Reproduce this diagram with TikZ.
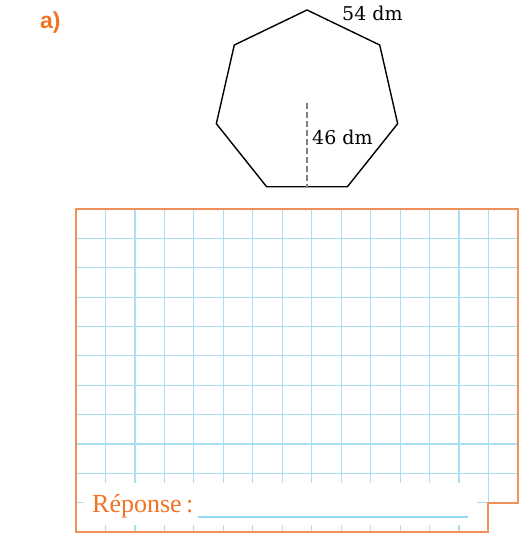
\documentclass[tikz,border=0pt]{standalone}
\usepackage{fontspec}
\setmainfont{DejaVu Serif}
\newfontfamily\repfont{Liberation Serif}
\newfontfamily\labfont{Liberation Sans}
\definecolor{exoorange}{RGB}{242,115,35}
\definecolor{frameorange}{RGB}{240,145,90}
\definecolor{gridblue}{RGB}{170,222,245}
\definecolor{lineblue}{RGB}{150,215,245}

\begin{document}
\begin{tikzpicture}[x=1pt, y=1pt, every node/.style={inner sep=0pt}]
    \useasboundingbox (0,0) rectangle (523,545);

    % Exercise label
    \node[anchor=base west, text=exoorange,
          font=\labfont\bfseries\fontsize{23}{23}\selectfont] (exlabel) at (40,516) {a)};

    % Heptagon with apothem
    \begin{scope}[shift={(307,442)}]
      \coordinate (centre) at (0,0);
      \coordinate (foot) at (0,{-93*cos(180/7)});
      \draw[line width=1.4pt, line join=miter] (90:93)
            \foreach \k in {1,...,6} { -- ({90+\k*360/7}:93) } -- cycle;
      \draw[gray, line width=1.3pt, dash pattern=on 6pt off 3pt] (centre) -- (foot);
      \node[anchor=base west, font=\fontsize{19}{19}\selectfont] (side) at (35,82) {54 dm};
      \node[anchor=base west, font=\fontsize{19}{19}\selectfont] (apothem) at (5,-42) {46 dm};
    \end{scope}

    % Squared answer grid
    \begin{scope}[shift={(76,13)}]
      \foreach \i in {1,...,14}
        \draw[gridblue, line width=1.2pt] (\i*29.467,0) -- (\i*29.467,323);
      \foreach \j in {1,...,10}
        \draw[gridblue, line width=1.2pt] (0,\j*29.36) -- (442,\j*29.36);
      \fill[white] (8,7) rectangle (401,49);
      \node[anchor=base west, text=exoorange,
            font=\repfont\fontsize{26}{26}\selectfont] (answer) at (16,19) {Réponse\,:};
      \draw[lineblue, line width=1.2pt] (122,15) -- (392,15);
      \draw[frameorange, line width=1.3pt] (0,323) -- (442,323) -- (442,29)
            -- (412,29) -- (412,0) -- (0,0) -- cycle;
    \end{scope}
\end{tikzpicture}
\end{document}
